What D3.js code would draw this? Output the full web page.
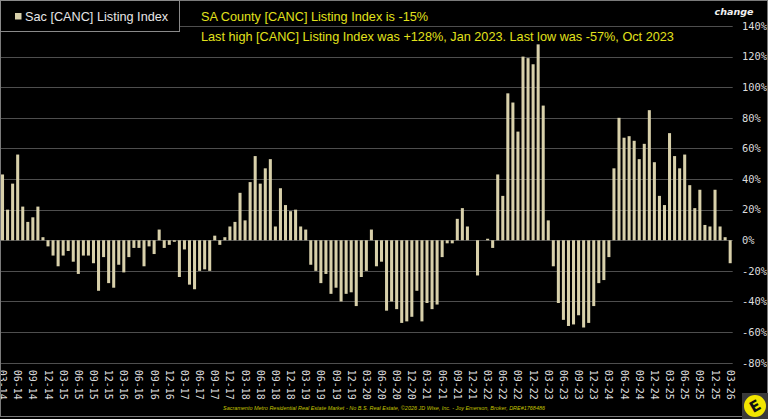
<!DOCTYPE html>
<html>
<head>
<meta charset="utf-8">
<script src="https://cdn.jsdelivr.net/npm/d3@7"></script>
<style>
  html, body { margin: 0; padding: 0; background: #000; }
  svg { display: block; }
</style>
</head>
<body>
<svg id="chart"></svg>
<script>
// monthly listing index change, Mar 2014 .. Mar 2026
const seriesName = "Sac [CANC] Listing Index";
const values = [
  43, 20, 37, 56, 22, 12, 15, 22, 2, -4,
  -10, -17, -10, -7, -14, -22, -10, -10, -15, -33,
  -11, -28, -31, -16, -21, -11, -5, -5, -17, -4,
  -9, 7, -5, -3, -1, -24, -6, -29, -32, -20,
  -19, -20, 3, -3, 2, 9, 12, 31, 13, 38,
  55, 37, 47, 53, 9, 34, 23, 19, 20, 9,
  7, -16, -20, -28, -22, -35, -31, -40, -35, -34,
  -43, -24, -20, 7, -17, -14, -46, -40, -45, -54,
  -53, -50, -33, -53, -41, -45, -42, -11, -2, -2,
  14, 21, 9, 0, -23, 0, 1, -5, 43, 29,
  96, 90, 71, 120, 119, 115, 128, 88, 13, -17,
  -41, -52, -56, -55, -49, -57, -54, -43, -28, -26,
  -11, 47, 80, 67, 68, 65, 53, 63, 85, 51,
  29, 23, 70, 55, 47, 56, 36, 21, 33, 10,
  9, 33, 9, 2, -15
];
const tickLabels = [
  "03-14","06-14","09-14","12-14","03-15","06-15","09-15","12-15",
  "03-16","06-16","09-16","12-16","03-17","06-17","09-17","12-17",
  "03-18","06-18","09-18","12-18","03-19","06-19","09-19","12-19",
  "03-20","06-20","09-20","12-20","03-21","06-21","09-21","12-21",
  "03-22","06-22","09-22","12-22","03-23","06-23","09-23","12-23",
  "03-24","06-24","09-24","12-24","03-25","06-25","09-25","12-25",
  "03-26"
];
const yTicks = [-80, -60, -40, -20, 0, 20, 40, 60, 80, 100, 120, 140];
const titleLines = [
  "SA County [CANC] Listing Index is -15%",
  "Last high [CANC] Listing Index was +128%, Jan 2023. Last low was -57%, Oct 2023"
];
const footerText = "Sacramento Metro Residential Real Estate Market - No B.S. Real Estate, \u00a92026 JD Wise, Inc. - Joy Emerson, Broker, DRE#1768486";

const months = d3.timeMonth.range(new Date(2014, 2, 1), new Date(2026, 3, 1));
const fmt = d3.timeFormat("%m-%y");
const data = months.map((m, i) => ({ name: fmt(m), value: values[i] }));

const width = 768, height = 419;
const plot = { left: 0, right: 732.7, top: 26, bottom: 362.7 };
const barColor = "#d8d0aa";
const gridColor = "#4e4e4e";

const svg = d3.select("#chart").attr("width", width).attr("height", height);

svg.append("rect").attr("width", width).attr("height", height).attr("fill", "#000");

const xScale = d3.scaleBand()
  .domain(data.map(d => d.name))
  .range([plot.left, plot.right])
  .paddingInner(0.4)
  .paddingOuter(0.2);

const yScale = d3.scaleLinear()
  .domain([-80, 140])
  .range([plot.bottom, plot.top]);

// grid
svg.append("g")
  .selectAll("line")
  .data(yTicks)
  .enter()
  .append("line")
  .attr("x1", plot.left)
  .attr("x2", plot.right)
  .attr("y1", d => Math.round(yScale(d)) + 0.5)
  .attr("y2", d => Math.round(yScale(d)) + 0.5)
  .attr("stroke", gridColor)
  .attr("stroke-width", 1);

// bars
svg.selectAll(".bar")
  .data(data)
  .enter()
  .append("rect")
  .attr("class", "bar")
  .attr("x", d => xScale(d.name))
  .attr("width", xScale.bandwidth())
  .attr("y", d => yScale(Math.max(0, d.value)))
  .attr("height", d => Math.abs(yScale(d.value) - yScale(0)))
  .attr("fill", barColor);

// y labels on the right
const yAxis = svg.append("g")
  .attr("transform", `translate(742,0)`)
  .call(d3.axisRight(yScale).tickValues(yTicks).tickSize(0).tickPadding(0).tickFormat(d => d + "%"));
yAxis.select(".domain").remove();
yAxis.selectAll("text")
  .attr("fill", "#dcdcdc")
  .attr("font-family", "'DejaVu Sans Mono', monospace")
  .attr("font-size", "10.4px");

// x labels, rotated
const xAxis = svg.append("g")
  .attr("transform", `translate(0,${plot.bottom})`)
  .call(d3.axisBottom(xScale).tickValues(tickLabels).tickSize(0));
xAxis.select(".domain").remove();
xAxis.selectAll("text")
  .attr("transform", "rotate(90)")
  .attr("text-anchor", "start")
  .attr("x", 7)
  .attr("y", 0)
  .attr("dy", "0.35em")
  .attr("fill", "#dcdcdc")
  .attr("font-family", "'DejaVu Sans Mono', monospace")
  .attr("font-size", "10px");

// frame
svg.append("rect")
  .attr("x", 0.5).attr("y", 0.5)
  .attr("width", width - 1).attr("height", 416)
  .attr("fill", "none")
  .attr("stroke", "#7a7a7a");

// legend
svg.append("rect")
  .attr("x", 0.5).attr("y", 0.5)
  .attr("width", 179).attr("height", 31)
  .attr("fill", "#000")
  .attr("stroke", "#8a8a8a");
svg.append("rect")
  .attr("x", 15).attr("y", 13)
  .attr("width", 6.5).attr("height", 6.5)
  .attr("fill", barColor);
svg.append("text")
  .attr("x", 25).attr("y", 21)
  .attr("fill", "#e6e6e6")
  .attr("font-family", "'Liberation Sans', Arial, sans-serif")
  .attr("font-size", "12.7px")
  .text(seriesName);

// titles
svg.selectAll("text.title")
  .data(titleLines)
  .enter()
  .append("text")
  .attr("class", "title")
  .attr("x", 201)
  .attr("y", (d, i) => 20.5 + i * 20)
  .attr("fill", "#e2e21c")
  .attr("font-family", "'Liberation Sans', Arial, sans-serif")
  .attr("font-size", "12.7px")
  .text(d => d);

svg.append("text")
  .attr("x", 734).attr("y", 15)
  .attr("text-anchor", "middle")
  .attr("fill", "#f0f0f0")
  .attr("font-family", "'DejaVu Sans', sans-serif")
  .attr("font-style", "italic")
  .attr("font-weight", "bold")
  .attr("font-size", "9.5px")
  .text("change");

// footer
svg.append("text")
  .attr("x", 384).attr("y", 410)
  .attr("text-anchor", "middle")
  .attr("fill", "#c4c400")
  .attr("font-family", "'Liberation Sans', Arial, sans-serif")
  .attr("font-style", "italic")
  .attr("font-size", "6px")
  .attr("textLength", 322)
  .attr("lengthAdjust", "spacingAndGlyphs")
  .text(footerText);

// logo
const logo = svg.append("g").attr("transform", "translate(742,393)");
logo.append("rect").attr("width", 26).attr("height", 26).attr("fill", "#3a3a3a");
logo.append("circle").attr("cx", 13).attr("cy", 13).attr("r", 11).attr("fill", "#f2e600");
logo.append("text")
  .attr("x", 13).attr("y", 13)
  .attr("dy", "0.36em")
  .attr("text-anchor", "middle")
  .attr("transform", "rotate(-30,13,13)")
  .attr("fill", "#111")
  .attr("font-family", "'DejaVu Sans', sans-serif")
  .attr("font-weight", "bold")
  .attr("font-size", "15px")
  .text("E");
</script>
</body>
</html>
